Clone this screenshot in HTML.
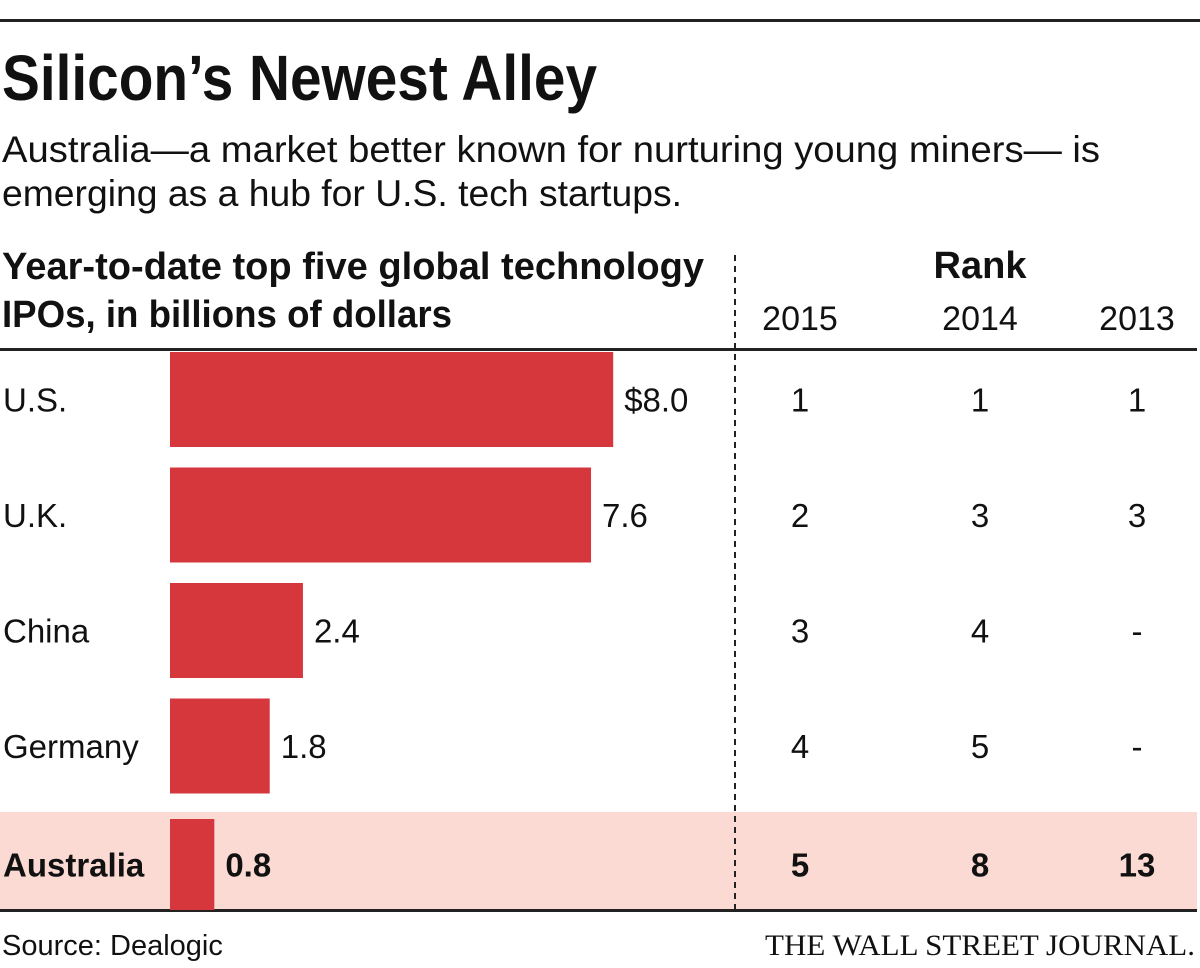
<!DOCTYPE html>
<html><head><meta charset="utf-8"><style>
html,body{margin:0;padding:0;background:#fff;}
svg{display:block;}
text{font-family:"Liberation Sans Narrow","Liberation Sans",sans-serif;fill:#111;}
</style></head><body>
<svg id="chart" width="1200" height="968" viewBox="0 0 1200 968">
<rect x="0" y="19" width="1200" height="3" fill="#222"/>
<text x="2" y="100" font-size="64" font-weight="bold" textLength="595" lengthAdjust="spacingAndGlyphs">Silicon’s Newest Alley</text>
<text x="2" y="162" font-size="37" textLength="1098" lengthAdjust="spacingAndGlyphs">Australia—a market better known for nurturing young miners— is</text>
<text x="2" y="206" font-size="37" textLength="680" lengthAdjust="spacingAndGlyphs">emerging as a hub for U.S. tech startups.</text>
<text x="2" y="279" font-size="38" font-weight="bold" textLength="702" lengthAdjust="spacingAndGlyphs">Year-to-date top five global technology</text>
<text x="2" y="327" font-size="38" font-weight="bold" textLength="450" lengthAdjust="spacingAndGlyphs">IPOs, in billions of dollars</text>
<text x="980" y="278" font-size="38" font-weight="bold" text-anchor="middle">Rank</text>
<rect x="0" y="812" width="1197" height="98" fill="#fbdad4"/>
<rect x="0" y="348" width="1197" height="3" fill="#222"/>
<rect x="0" y="909" width="1197" height="3" fill="#222"/>
<line x1="735" y1="255" x2="735" y2="910" stroke="#222" stroke-width="2" stroke-dasharray="6,5"/>
<g id="marks"></g>
<text x="2" y="955" font-size="29" fill="#333">Source: Dealogic</text>
<text x="1195" y="955" font-size="30" text-anchor="end" textLength="430" lengthAdjust="spacingAndGlyphs" style="font-family:'Liberation Serif',serif">THE WALL STREET JOURNAL.</text>
</svg>
<script>
const countries = ["U.S.","U.K.","China","Germany","Australia"];
const values = [8.0,7.6,2.4,1.8,0.8];
const valueLabels = ["$8.0","7.6","2.4","1.8","0.8"];
const years = ["2015","2014","2013"];
const rank2015 = ["1","2","3","4","5"];
const rank2014 = ["1","3","4","5","8"];
const rank2013 = ["1","3","-","-","13"];

const NS="http://www.w3.org/2000/svg";
const g=document.getElementById('marks');
const x0=170, pxPerUnit=55.4;
const xScale=v=>x0+v*pxPerUnit;
const rowTop=i=>352+i*115.5;
const rowH=95;
const colX=[800,980,1137];
function mk(tag,attrs,txt){const e=document.createElementNS(NS,tag);for(const k in attrs)e.setAttribute(k,attrs[k]);if(txt!==undefined)e.textContent=txt;g.appendChild(e);return e;}
years.forEach((y,j)=>{
  const t=mk('text',{x:colX[j],y:330,'font-size':34,'text-anchor':'middle'},y);
  
  
});
const ranks=[rank2015,rank2014,rank2013];
countries.forEach((c,i)=>{
  const top=rowTop(i)+(i===4?5:0);
  const h=i===4?(910-top):rowH;
  const cy=top+h/2+12;
  const bold=i===4;
  const lab=mk('text',{x:3,y:cy,'font-size':33,'font-weight':bold?'bold':'normal'},c);
  
  
  const b=mk('rect',{x:x0,y:top,width:xScale(values[i])-x0,height:h,fill:'#d6373c'});
  
  
  const vl=mk('text',{x:xScale(values[i])+11,y:cy,'font-size':33,'font-weight':bold?'bold':'normal'},valueLabels[i]);
  
  
  ranks.forEach((r,j)=>{
    const t=mk('text',{x:colX[j],y:cy,'font-size':33,'text-anchor':'middle','font-weight':bold?'bold':'normal'},r[i]);
    
    
  });
});
</script>
</body></html>
